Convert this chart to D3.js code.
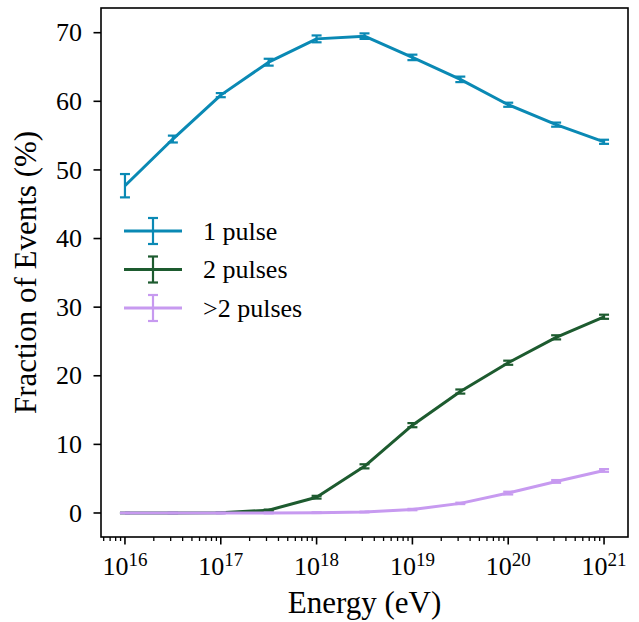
<!DOCTYPE html>
<html><head><meta charset="utf-8">
<script src="https://cdn.jsdelivr.net/npm/d3@7"></script>
</head><body style="margin:0">
<script>
const energyExp = [16, 16.5, 17, 17.5, 18, 18.5, 19, 19.5, 20, 20.5, 21];
const onePulse = [47.7, 54.5, 60.9, 65.7, 69.1, 69.5, 66.4, 63.2, 59.5, 56.6, 54.1];
const onePulseErr = [1.7, 0.5, 0.3, 0.5, 0.5, 0.4, 0.4, 0.4, 0.3, 0.3, 0.3];
const twoPulse = [0.0, 0.0, 0.05, 0.4, 2.3, 6.8, 12.8, 17.7, 21.9, 25.6, 28.6];
const twoPulseErr = [0.05, 0.05, 0.05, 0.1, 0.2, 0.3, 0.3, 0.3, 0.3, 0.3, 0.3];
const morePulse = [0.0, 0.0, 0.0, 0.0, 0.05, 0.15, 0.5, 1.4, 2.9, 4.6, 6.2];
const morePulseErr = [0.05, 0.05, 0.05, 0.05, 0.05, 0.05, 0.1, 0.1, 0.2, 0.2, 0.2];
const seriesNames = ["1 pulse", "2 pulses", ">2 pulses"];
const seriesColors = ["#0a89b4", "#1d5b2f", "#c79af0"];
const yTicks = [0, 10, 20, 30, 40, 50, 60, 70];
const xTickExps = [16, 17, 18, 19, 20, 21];

const FONT = '"Liberation Serif"';
const W = 639, H = 622;
const m = {left: 101, right: 11, top: 8, bottom: 85};
const svg = d3.select("body").append("svg").attr("width", W).attr("height", H).style("display", "block")
  .style("font-family", FONT, "important");
const x = d3.scaleLog().domain([Math.pow(10, 15.75), Math.pow(10, 21.25)]).range([m.left, W - m.right]);
const y = d3.scaleLinear().domain([-3.5, 73.6]).range([H - m.bottom, m.top]);

function T(sel) { return sel.style("font-family", FONT, "important"); }

const series = [
  {name: seriesNames[0], vals: onePulse, err: onePulseErr, color: seriesColors[0]},
  {name: seriesNames[1], vals: twoPulse, err: twoPulseErr, color: seriesColors[1]},
  {name: seriesNames[2], vals: morePulse, err: morePulseErr, color: seriesColors[2]}
];

const line = d3.line().x(d => x(d.e)).y(d => y(d.v));
const plot = svg.append("g");
series.forEach(s => {
  const pts = energyExp.map((e, i) => ({e: Math.pow(10, e), v: s.vals[i], err: s.err[i]}));
  const g = plot.append("g");
  g.append("path").datum(pts).attr("d", line).attr("fill", "none")
    .attr("stroke", s.color).attr("stroke-width", 3).attr("stroke-linejoin", "round");
  pts.forEach(p => {
    const cx = x(p.e), y0 = y(p.v - p.err), y1 = y(p.v + p.err);
    g.append("line").attr("x1", cx).attr("x2", cx).attr("y1", y0).attr("y2", y1).attr("stroke", s.color).attr("stroke-width", 2.2);
    [y0, y1].forEach(yy => g.append("line").attr("x1", cx - 5).attr("x2", cx + 5).attr("y1", yy).attr("y2", yy).attr("stroke", s.color).attr("stroke-width", 2.2));
  });
});

// axes
const xAxis = svg.append("g").attr("transform", `translate(0,${H - m.bottom})`);
const minor = [];
for (let e = 15; e <= 21; e++) for (let k = 2; k <= 9; k++) {
  const v = k * Math.pow(10, e);
  if (v >= x.domain()[0] && v <= x.domain()[1]) minor.push(v);
}
xAxis.selectAll(".mn").data(minor).join("line").attr("x1", d => x(d)).attr("x2", d => x(d)).attr("y1", 0).attr("y2", 4).attr("stroke", "#000").attr("stroke-width", 1.3);
xAxis.selectAll(".mj").data(xTickExps).join("line").attr("x1", d => x(Math.pow(10, d))).attr("x2", d => x(Math.pow(10, d))).attr("y1", 0).attr("y2", 7.5).attr("stroke", "#000").attr("stroke-width", 1.6);
const xl = T(xAxis.selectAll(".xl").data(xTickExps).join("text").attr("x", d => x(Math.pow(10, d))).attr("y", 38)
  .attr("text-anchor", "middle").attr("font-size", 26));
T(xl.append("tspan")).text("10");
T(xl.append("tspan").attr("dy", -9).attr("font-size", 19)).text(d => d);

const yAxis = svg.append("g").attr("transform", `translate(${m.left},0)`);
yAxis.selectAll(".yt").data(yTicks).join("line").attr("x1", -7.5).attr("x2", 0).attr("y1", d => y(d)).attr("y2", d => y(d)).attr("stroke", "#000").attr("stroke-width", 1.6);
T(yAxis.selectAll(".yl").data(yTicks).join("text").attr("x", -19).attr("y", d => y(d)).attr("dy", "0.33em").attr("text-anchor", "end")
  .attr("font-size", 26)).text(d => d);

svg.append("rect").attr("x", m.left).attr("y", m.top).attr("width", W - m.right - m.left).attr("height", H - m.bottom - m.top)
  .attr("fill", "none").attr("stroke", "#000").attr("stroke-width", 1.6);

T(svg.append("text").attr("x", (m.left + W - m.right) / 2).attr("y", 613).attr("text-anchor", "middle")
  .attr("font-size", 31)).text("Energy (eV)");
T(svg.append("text").attr("transform", `translate(36,${(m.top + H - m.bottom) / 2}) rotate(-90)`).attr("text-anchor", "middle")
  .attr("font-size", 31)).text("Fraction of Events (%)");

// legend
const leg = svg.append("g");
series.forEach((s, i) => {
  const ly = 231 + i * 38.5;
  leg.append("line").attr("x1", 124).attr("x2", 182).attr("y1", ly).attr("y2", ly).attr("stroke", s.color).attr("stroke-width", 3);
  leg.append("line").attr("x1", 153).attr("x2", 153).attr("y1", ly - 13).attr("y2", ly + 13).attr("stroke", s.color).attr("stroke-width", 2.2);
  [ly - 13, ly + 13].forEach(yy => leg.append("line").attr("x1", 148).attr("x2", 158).attr("y1", yy).attr("y2", yy).attr("stroke", s.color).attr("stroke-width", 2.2));
  T(leg.append("text").attr("x", 203).attr("y", ly).attr("dy", "0.33em").attr("font-size", 26)).text(s.name);
});
</script></body></html>
